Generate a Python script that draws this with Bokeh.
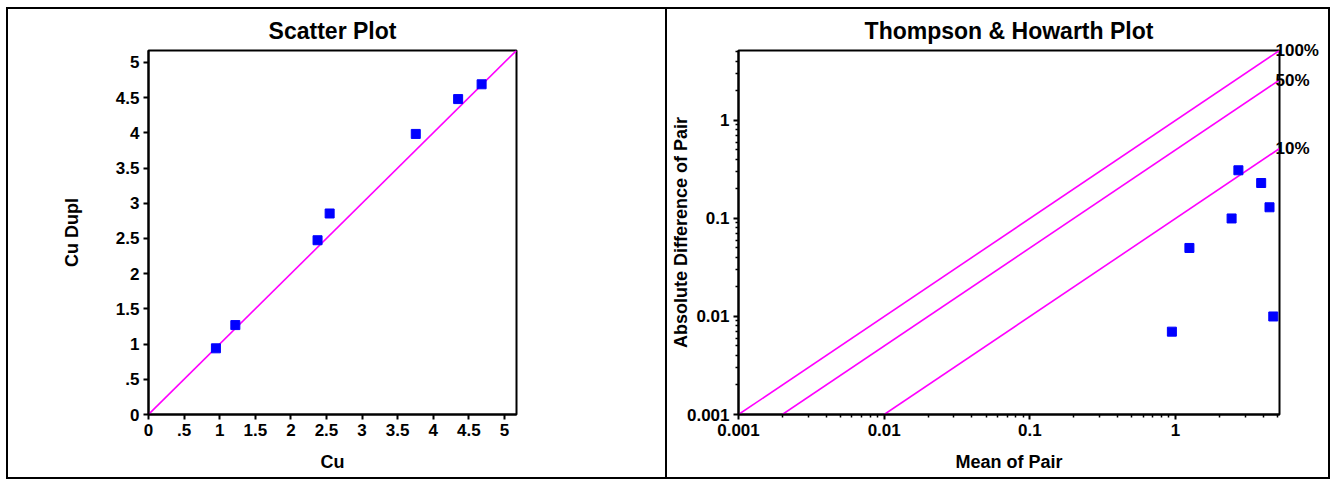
import math
from bokeh.plotting import figure
from bokeh.layouts import row
from bokeh.models import FixedTicker, Range1d, LogAxis
from bokeh.embed import file_html
from bokeh.resources import INLINE

# ---- data ----
cu = [0.947, 1.22, 2.375, 2.545, 3.755, 4.35, 4.68]
cu_dupl = [0.940, 1.27, 2.475, 2.855, 3.985, 4.48, 4.69]
axis_max = 5.17

scatter_ticks = [0.0, 0.5, 1.0, 1.5, 2.0, 2.5, 3.0, 3.5, 4.0, 4.5, 5.0]
scatter_tick_labels = ["0", ".5", "1", "1.5", "2", "2.5", "3", "3.5", "4", "4.5", "5"]

th_ticks = [0.001, 0.01, 0.1, 1.0]
th_tick_labels = ["0.001", "0.01", "0.1", "1"]
th_min = 0.001

pct_levels = [1.0, 0.5, 0.1]
pct_labels = ["100%", "50%", "10%"]

# derived pair statistics (Thompson & Howarth)
pair_mean = [(a + b) / 2 for a, b in zip(cu, cu_dupl)]
pair_diff = [abs(a - b) for a, b in zip(cu, cu_dupl)]

FONT = "Liberation Sans"
MAGENTA = "#FF00FF"
BLUE = "#0000FF"


def style(p):
    p.grid.visible = False
    p.outline_line_color = "black"
    p.outline_line_width = 2
    p.background_fill_color = "white"
    p.border_fill_color = "white"
    for ax in (p.xaxis[0], p.yaxis[0]):
        ax.axis_line_width = 2
        ax.axis_line_color = "black"
        ax.major_tick_out = 5
        ax.major_tick_in = 0
        ax.major_tick_line_width = 2
        ax.major_label_text_font = FONT
        ax.major_label_text_font_style = "bold"
        ax.major_label_text_font_size = "17px"
        ax.major_label_text_color = "black"
        ax.major_label_standoff = 4
        ax.axis_label_text_font = FONT
        ax.axis_label_text_font_style = "bold"
        ax.axis_label_text_font_size = "18px"
        ax.axis_label_text_color = "black"
    p.title.text_font = FONT
    p.title.text_font_style = "bold"
    p.title.text_font_size = "23px"
    p.title.align = "center"
    p.title.vertical_align = "top"
    p.title.text_color = "black"
    p.title.standoff = 10


# ---- left: scatter plot ----
p1 = figure(frame_width=364, frame_height=360,
            min_border_left=140, min_border_right=153,
            min_border_top=41, min_border_bottom=67,
            x_range=Range1d(0, axis_max), y_range=Range1d(0, axis_max),
            title="Scatter Plot", output_backend="svg", toolbar_location=None)
style(p1)
for ax in (p1.xaxis[0], p1.yaxis[0]):
    ax.ticker = FixedTicker(ticks=scatter_ticks)
    ax.major_label_overrides = dict(zip(scatter_ticks, scatter_tick_labels))
    ax.minor_tick_line_color = None
p1.xaxis.axis_label = "Cu"
p1.yaxis.axis_label = "Cu Dupl"
p1.xaxis.axis_label_standoff = 13
p1.yaxis.axis_label_standoff = 31
p1.line([0, axis_max], [0, axis_max], line_color=MAGENTA, line_width=1.6)
p1.scatter(cu, cu_dupl, marker="square", size=9, fill_color=BLUE, line_color=BLUE)
p1.styles = {"border": "2px solid black"}

# ---- right: Thompson & Howarth plot ----
p2 = figure(frame_width=539, frame_height=360,
            min_border_left=66, min_border_right=51,
            min_border_top=41, min_border_bottom=67,
            x_axis_type="log", y_axis_type="log",
            x_range=Range1d(th_min, axis_max), y_range=Range1d(th_min, axis_max),
            title="Thompson & Howarth Plot", output_backend="svg", toolbar_location=None)
style(p2)
minor = []
for e in range(-3, 1):
    for k in range(2, 10):
        v = k * 10.0 ** e
        if v < axis_max:
            minor.append(v)
for ax in (p2.xaxis[0], p2.yaxis[0]):
    ax.ticker = FixedTicker(ticks=th_ticks, minor_ticks=minor)
    ax.major_label_overrides = dict(zip(th_ticks, th_tick_labels))
    ax.minor_tick_out = 3
    ax.minor_tick_in = 0
    ax.minor_tick_line_width = 1.5
    ax.minor_tick_line_color = "black"
p2.xaxis.axis_label = "Mean of Pair"
p2.xaxis.axis_label_standoff = 13
p2.yaxis.axis_label = "Absolute Difference of Pair"
p2.yaxis.axis_label_standoff = -7

for pct in pct_levels:
    p2.line([th_min / pct, axis_max], [th_min, pct * axis_max],
            line_color=MAGENTA, line_width=1.6)

# percentage labels at the right end of each reference line
pct_pos = [pct * axis_max for pct in pct_levels]
right_ax = LogAxis(ticker=FixedTicker(ticks=pct_pos, minor_ticks=[]),
                   major_label_overrides=dict(zip(pct_pos, pct_labels)),
                   axis_line_color=None, major_tick_line_color=None,
                   minor_tick_line_color=None, major_tick_out=0, major_tick_in=0,
                   major_label_standoff=-4,
                   major_label_text_font=FONT, major_label_text_font_style="bold",
                   major_label_text_font_size="17px", major_label_text_color="black")
p2.add_layout(right_ax, "right")

p2.scatter(pair_mean, pair_diff, marker="square", size=9, fill_color=BLUE, line_color=BLUE)
p2.styles = {"border-top": "2px solid black", "border-right": "2px solid black",
             "border-bottom": "2px solid black"}

layout = row(p1, p2, styles={"position": "absolute", "left": "6px", "top": "7px"})

open("out.html", "w").write(file_html(layout, INLINE))
